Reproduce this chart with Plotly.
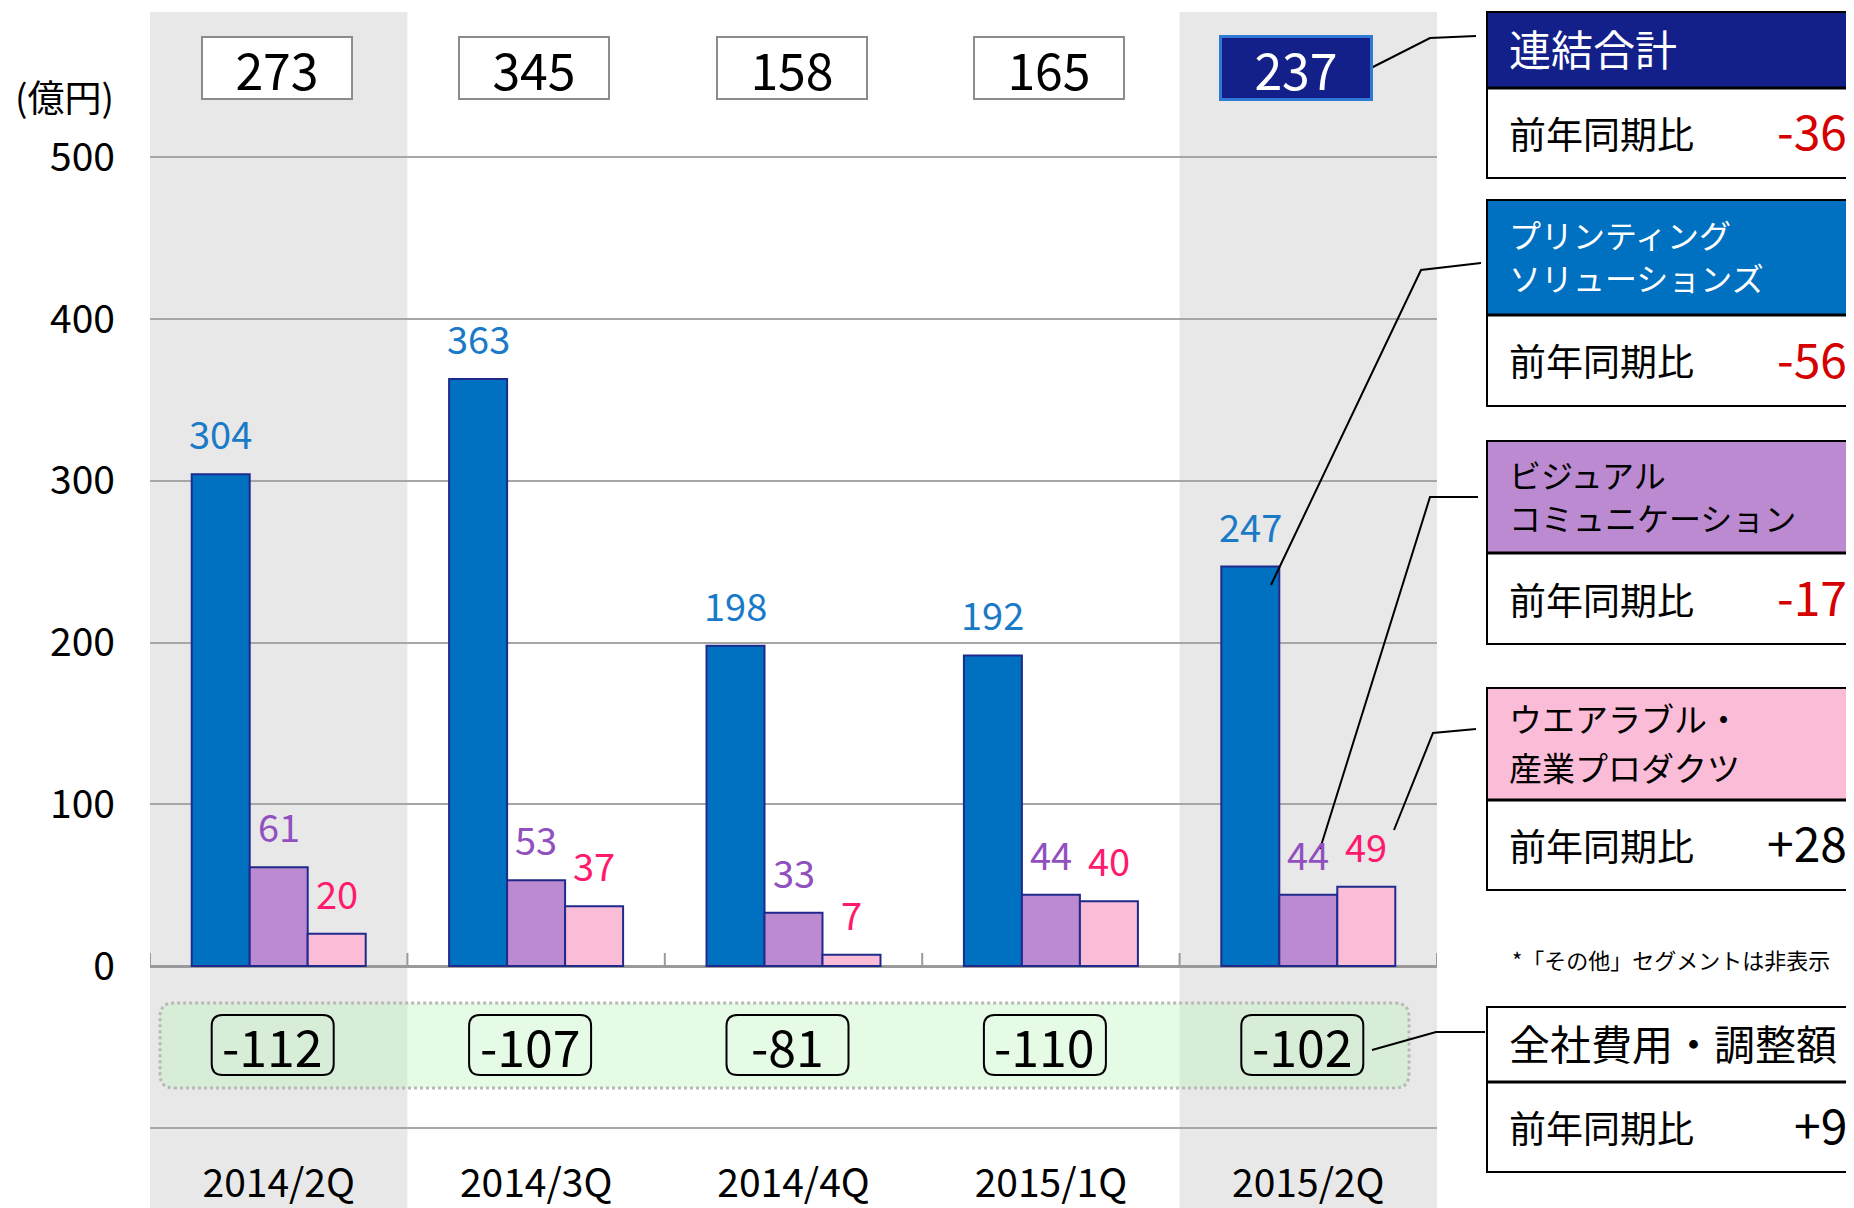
import plotly.graph_objects as go

# ---------------- data ----------------
categories = ["2014/2Q", "2014/3Q", "2014/4Q", "2015/1Q", "2015/2Q"]
printing = [304, 363, 198, 192, 247]
visual = [61, 53, 33, 44, 44]
wearable = [20, 37, 7, 40, 49]
total = [273, 345, 158, 165, 237]
corporate = [-112, -107, -81, -110, -102]
y_tickvals = [-100, 0, 100, 200, 300, 400, 500]
y_ticktext = ["", "0", "100", "200", "300", "400", "500"]
segment_titles = [["連結合計"], ["プリンティング", "ソリューションズ"], ["ビジュアル", "コミュニケーション"],
                  ["ウエアラブル・", "産業プロダクツ"], ["全社費用・調整額"]]
yoy_label = "前年同期比"
yoy_changes = [-36, -56, -17, 28, 9]
unit_label = "(億円)"
note_text = "*「その他」セグメントは非表示"

# ---------------- style ----------------
OFF = 8                      # page body margin
W, H = 1854 - OFF, 1208 - OFF
FONT = "Noto Sans CJK JP"
X0, X1 = 150, 1437           # plot area in window px
ZERO_PX, PX_PER_UNIT = 966 - OFF, 1.6174
Y_RANGE = [-(H - ZERO_PX) / PX_PER_UNIT, ZERO_PX / PX_PER_UNIT]
BARGAP = 0.324
bar_fill = ["#0070c0", "#bc8ad0", "#fbbcd7"]
label_col = ["#1a7ac8", "#9150c0", "#ff1a6e"]
edge = "#1f2a8c"


def px(x):
    return (x - OFF) / W


def py(y):
    return 1 - (y - OFF) / H


def rr_path(x0, y0, x1, y1, rx, ry):
    return (f"M{x0+rx},{y0} L{x1-rx},{y0} Q{x1},{y0} {x1},{y0+ry} L{x1},{y1-ry} "
            f"Q{x1},{y1} {x1-rx},{y1} L{x0+rx},{y1} Q{x0},{y1} {x0},{y1-ry} "
            f"L{x0},{y0+ry} Q{x0},{y0} {x0+rx},{y0} Z")


fig = go.Figure()
for vals, fill in zip([printing, visual, wearable], bar_fill):
    fig.add_bar(x=categories, y=vals, marker=dict(color=fill, line=dict(color=edge, width=2)),
                showlegend=False, hoverinfo="skip")

shapes = []
annotations = []

# grey highlight bands (first and last period)
for i in (0, len(categories) - 1):
    shapes.append(dict(type="rect", xref="x", yref="paper", x0=i - 0.5, x1=i + 0.5,
                       y0=0, y1=py(12), fillcolor="#e8e8e8", line=dict(width=0), layer="below"))

# tick marks on the zero line at category boundaries
for i in range(len(categories) + 1):
    shapes.append(dict(type="line", xref="x", yref="y", x0=i - 0.5, x1=i - 0.5,
                       ysizemode="pixel", yanchor=0, y0=0, y1=13,
                       line=dict(color="#9a9a9a", width=2)))

# bar value labels
cat_w = (X1 - X0) / len(categories)
bw = cat_w * (1 - BARGAP) / 3
for k, vals in enumerate([printing, visual, wearable]):
    for c, v in zip(categories, vals):
        annotations.append(dict(x=c, y=v, xref="x", yref="y", text=str(v), showarrow=False,
                                yanchor="bottom", xshift=(k - 1) * bw, yshift=12,
                                font=dict(size=38, color=label_col[k], family=FONT)))

# totals boxes
for i, (c, v) in enumerate(zip(categories, total)):
    last = i == len(categories) - 1
    annotations.append(dict(x=c, y=py(68), xref="x", yref="paper", yanchor="middle",
                            text=str(v), showarrow=False,
                            width=148, height=60, borderpad=0, borderwidth=3 if last else 2,
                            bordercolor="#2e7bd6" if last else "#8c8c8c",
                            bgcolor="#13208a" if last else "white", xshift=-12 if last else -2,
                            font=dict(size=50, color="white" if last else "black", family=FONT)))

# corporate adjustments band
shapes.append(dict(type="path", xref="paper", yref="paper",
                   path=rr_path(px(160), py(1088), px(1409), py(1003), 14 / W, 14 / H),
                   fillcolor="rgba(190,245,190,0.38)", line=dict(color="#b8b8b8", width=3, dash="dot"),
                   layer="between"))
for i, (c, v) in enumerate(zip(categories, corporate)):
    shapes.append(dict(type="path", xref="x", yref="paper", xsizemode="pixel", ysizemode="pixel",
                       xanchor=i, yanchor=py(1045),
                       path=rr_path(-67, -30, 55, 30, 11, 11),
                       fillcolor="rgba(0,0,0,0)", line=dict(color="black", width=2)))
    annotations.append(dict(x=c, y=py(1045), xref="x", yref="paper", yanchor="middle",
                            text=str(v), showarrow=False,
                            xshift=-6, font=dict(size=50, color="black", family=FONT)))

# unit label
annotations.append(dict(x=px(64), y=py(96), xref="paper", yref="paper", text=unit_label,
                        xanchor="center", yanchor="middle",
                        showarrow=False, font=dict(size=37, color="black", family=FONT)))

# right-hand summary panel
boxes = [(12, 88, 178, "#13208a", "white", [48], 42),
         (200, 315, 406, "#0070c0", "white", [234, 277], 32),
         (441, 553, 644, "#bc8ad0", "black", [474, 517], 32),
         (688, 800, 890, "#fbbcd7", "black", [718, 767], 33),
         (1007, 1082, 1172, "#ffffff", "black", [1042], 41)]
for (top, mid, bot, hdr, tcol, ys, fs), titles, chg in zip(boxes, segment_titles, yoy_changes):
    shapes.append(dict(type="rect", xref="paper", yref="paper", x0=px(1487), x1=px(1880),
                       y0=py(mid), y1=py(top), fillcolor=hdr, line=dict(color="black", width=2)))
    shapes.append(dict(type="rect", xref="paper", yref="paper", x0=px(1487), x1=px(1880),
                       y0=py(bot), y1=py(mid), fillcolor="white", line=dict(color="black", width=2)))
    shapes.append(dict(type="line", xref="paper", yref="paper", x0=px(1487), x1=px(1880),
                       y0=py(mid), y1=py(mid), line=dict(color="black", width=3)))
    for t, yy in zip(titles, ys):
        annotations.append(dict(x=px(1507), y=py(yy), xref="paper", yref="paper", text=t,
                                xanchor="left", yanchor="middle", showarrow=False,
                                font=dict(size=fs, color=tcol, family=FONT)))
    ymid = (mid + bot) / 2
    annotations.append(dict(x=px(1507), y=py(ymid), xref="paper", yref="paper", text=yoy_label,
                            xanchor="left", yanchor="middle", showarrow=False,
                            font=dict(size=37, color="black", family=FONT)))
    annotations.append(dict(x=px(1849), y=py(ymid - 4), xref="paper", yref="paper",
                            text=f"{chg:+d}", xanchor="right", yanchor="middle", showarrow=False,
                            font=dict(size=48, color="#d50000" if chg < 0 else "black", family=FONT)))

annotations.append(dict(x=px(1510), y=py(959), xref="paper", yref="paper", text=note_text,
                        xanchor="left", yanchor="middle", showarrow=False,
                        font=dict(size=22, color="black", family=FONT)))

# connector lines
connectors = [[(1369, 69), (1430, 38), (1476, 36)],
              [(1271, 585), (1421, 270), (1481, 263)],
              [(1320, 849), (1430, 497), (1478, 497)],
              [(1394, 830), (1433, 733), (1476, 729)],
              [(1372, 1050), (1436, 1032), (1485, 1032)]]
for pts in connectors:
    path = "M" + " L".join(f"{px(a)},{py(b)}" for a, b in pts)
    shapes.append(dict(type="path", xref="paper", yref="paper", path=path,
                       line=dict(color="black", width=2)))

fig.update_layout(
    width=W, height=H, margin=dict(l=0, r=0, t=0, b=0, autoexpand=False),
    paper_bgcolor="white", plot_bgcolor="white",
    barmode="group", bargap=BARGAP, bargroupgap=0,
    font=dict(family=FONT, color="black"),
    showlegend=False,
    xaxis=dict(domain=[px(X0), px(X1)], range=[-0.5, len(categories) - 0.5], type="category",
               anchor="free", position=py(1157), showgrid=False, showline=False, ticks="",
               tickfont=dict(size=39, color="black", family=FONT), fixedrange=True),
    yaxis=dict(domain=[0, 1], range=Y_RANGE, tickvals=y_tickvals, ticktext=y_ticktext,
               showgrid=True, gridcolor="#a6a6a6", gridwidth=2,
               zeroline=True, zerolinecolor="#9a9a9a", zerolinewidth=3,
               ticks="", ticklabelstandoff=34, showline=False,
               tickfont=dict(size=39, color="black", family=FONT), fixedrange=True),
    shapes=shapes, annotations=annotations,
)

fig.write_html("out.html")
